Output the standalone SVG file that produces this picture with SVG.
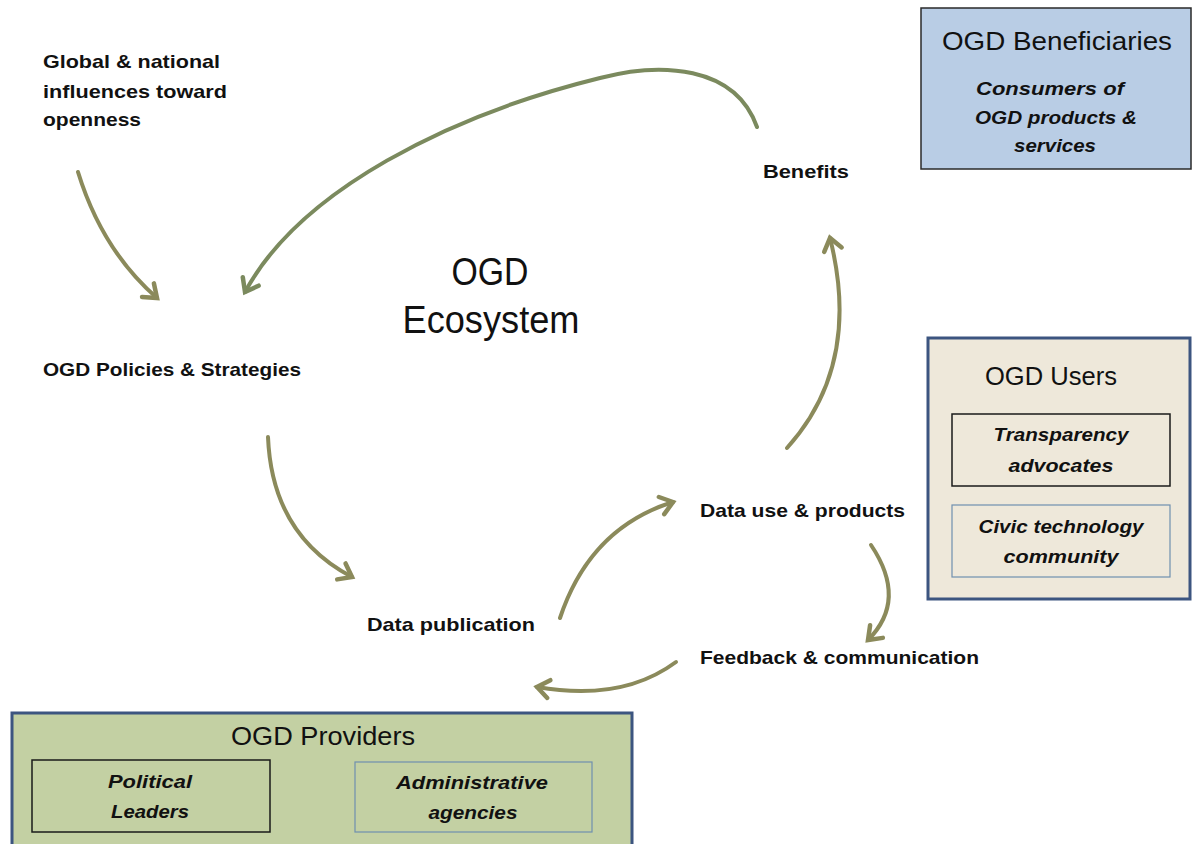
<svg xmlns="http://www.w3.org/2000/svg" width="1196" height="844" viewBox="0 0 1196 844">
<style>
.lbl{font-family:"Liberation Sans",Arial,sans-serif;font-weight:bold;font-size:19px;fill:#111}
.ttl{font-family:"Liberation Sans",Arial,sans-serif;font-size:25px;fill:#111;text-anchor:middle}
.it{font-family:"Liberation Sans",Arial,sans-serif;font-weight:bold;font-style:italic;font-size:19px;fill:#111;text-anchor:middle}
.big{font-family:"Liberation Sans",Arial,sans-serif;font-size:38px;fill:#111;text-anchor:middle}
.arr{fill:none;stroke:#8b8a5b;stroke-width:4;stroke-linecap:round}
.arr2{fill:none;stroke:#7b8a5e;stroke-width:4;stroke-linecap:round}
.inDark{fill:none;stroke:#1a1a1a;stroke-width:1.5}
.inBlue{fill:none;stroke:#6f8fb0;stroke-width:1.2}
</style>
<defs>
<marker id="ah" markerUnits="userSpaceOnUse" markerWidth="30" markerHeight="30" viewBox="0 0 30 30" refX="22" refY="15" orient="auto">
<path d="M10,6 L22,15 L10,24" fill="none" stroke="#8b8a5b" stroke-width="4.5" stroke-linecap="round" stroke-linejoin="miter"/>
</marker>
<marker id="ah2" markerUnits="userSpaceOnUse" markerWidth="30" markerHeight="30" viewBox="0 0 30 30" refX="22" refY="15" orient="auto">
<path d="M10,6 L22,15 L10,24" fill="none" stroke="#7b8a5e" stroke-width="4.5" stroke-linecap="round" stroke-linejoin="miter"/>
</marker>
</defs>
<rect width="1196" height="844" fill="#ffffff"/>

<g id="connectors">
<path class="arr" d="M78,172 Q102,250 157,298" marker-end="url(#ah)"/>
<path class="arr2" d="M757,127 C735,65 660,62 600,78 C450,115 300,190 245,292" marker-end="url(#ah2)"/>
<path class="arr" d="M268,437 Q272,535 352,577" marker-end="url(#ah)"/>
<path class="arr" d="M560,618 Q590,528 673,502" marker-end="url(#ah)"/>
<path class="arr" d="M787,448 Q862,365 830,238" marker-end="url(#ah)"/>
<path class="arr" d="M871,545 Q908,600 868,640" marker-end="url(#ah)"/>
<path class="arr" d="M676,662 Q622,702 537,687" marker-end="url(#ah)"/>
</g>

<g id="global">
<text class="lbl" x="43" y="68" textLength="177" lengthAdjust="spacingAndGlyphs">Global &amp; national</text>
<text class="lbl" x="43" y="98" textLength="184" lengthAdjust="spacingAndGlyphs">influences toward</text>
<text class="lbl" x="43" y="126" textLength="98" lengthAdjust="spacingAndGlyphs">openness</text>
</g>
<g id="policies"><text class="lbl" x="43" y="376" textLength="258" lengthAdjust="spacingAndGlyphs">OGD Policies &amp; Strategies</text></g>
<g id="benefits"><text class="lbl" x="763" y="178" textLength="86" lengthAdjust="spacingAndGlyphs">Benefits</text></g>
<g id="datause"><text class="lbl" x="700" y="517" textLength="205" lengthAdjust="spacingAndGlyphs">Data use &amp; products</text></g>
<g id="datapub"><text class="lbl" x="367" y="631" textLength="168" lengthAdjust="spacingAndGlyphs">Data publication</text></g>
<g id="feedback"><text class="lbl" x="700" y="664" textLength="279" lengthAdjust="spacingAndGlyphs">Feedback &amp; communication</text></g>

<g id="ecosystem">
<text class="big" x="490" y="285" textLength="77" lengthAdjust="spacingAndGlyphs">OGD</text>
<text class="big" x="491" y="333" textLength="177" lengthAdjust="spacingAndGlyphs">Ecosystem</text>
</g>

<g id="beneficiaries">
<rect x="921" y="8" width="270" height="161" fill="#b9cde5" stroke="#2a2a2a" stroke-width="1.5"/>
<text class="ttl" x="1057" y="50" textLength="230" lengthAdjust="spacingAndGlyphs">OGD Beneficiaries</text>
<text class="it" x="1050" y="95" textLength="148" lengthAdjust="spacingAndGlyphs">Consumers of</text>
<text class="it" x="1056" y="124" textLength="162" lengthAdjust="spacingAndGlyphs">OGD products &amp;</text>
<text class="it" x="1055" y="152" textLength="82" lengthAdjust="spacingAndGlyphs">services</text>
</g>

<g id="users">
<rect x="928" y="338" width="262" height="261" fill="#eee8da" stroke="#3c5580" stroke-width="3"/>
<text class="ttl" x="1051" y="385" textLength="132" lengthAdjust="spacingAndGlyphs">OGD Users</text>
<rect class="inDark" x="952" y="414" width="218" height="72"/>
<text class="it" x="1061" y="441" textLength="135" lengthAdjust="spacingAndGlyphs">Transparency</text>
<text class="it" x="1061" y="472" textLength="105" lengthAdjust="spacingAndGlyphs">advocates</text>
<rect class="inBlue" x="952" y="505" width="218" height="72"/>
<text class="it" x="1061" y="533" textLength="165" lengthAdjust="spacingAndGlyphs">Civic technology</text>
<text class="it" x="1061" y="563" textLength="115" lengthAdjust="spacingAndGlyphs">community</text>
</g>

<g id="providers">
<rect x="12" y="713" width="620" height="140" fill="#c3d0a3" stroke="#3c5580" stroke-width="3"/>
<text class="ttl" x="323" y="745" textLength="184" lengthAdjust="spacingAndGlyphs">OGD Providers</text>
<rect class="inDark" x="32" y="760" width="238" height="72"/>
<text class="it" x="150" y="788" textLength="84" lengthAdjust="spacingAndGlyphs">Political</text>
<text class="it" x="150" y="818" textLength="78" lengthAdjust="spacingAndGlyphs">Leaders</text>
<rect class="inBlue" x="355" y="762" width="237" height="70"/>
<text class="it" x="472" y="789" textLength="152" lengthAdjust="spacingAndGlyphs">Administrative</text>
<text class="it" x="473" y="819" textLength="89" lengthAdjust="spacingAndGlyphs">agencies</text>
</g>
</svg>
